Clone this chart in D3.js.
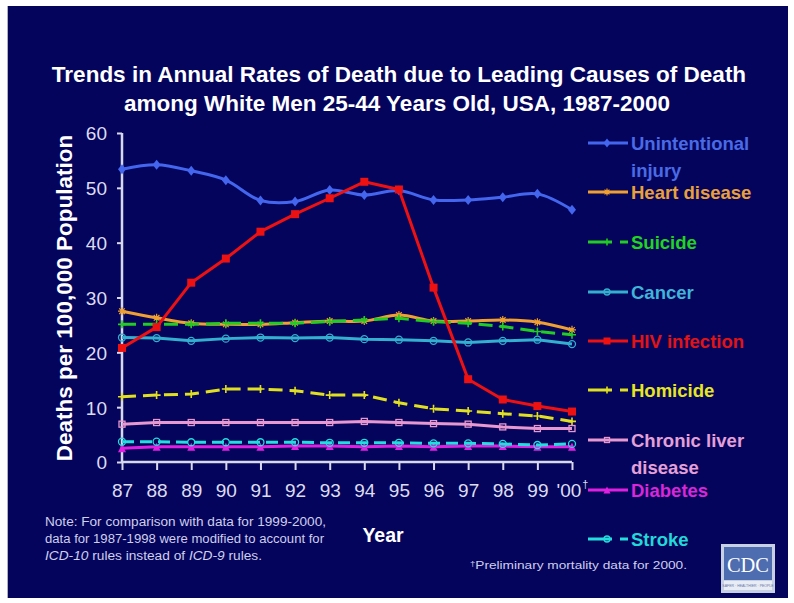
<!DOCTYPE html>
<html>
<head>
<meta charset="utf-8">
<script src="https://cdn.jsdelivr.net/npm/d3@7"></script>
<style>
  html, body { margin: 0; padding: 0; background: #ffffff; }
  svg { display: block; }
  svg { font-family: Arial, "Liberation Sans", sans-serif; }
</style>
</head>
<body>
<svg id="chart" width="794" height="603"></svg>
<script>
// ---- data ----
const years = [1987, 1988, 1989, 1990, 1991, 1992, 1993, 1994, 1995, 1996, 1997, 1998, 1999, 2000];
const yearLabels = ["87", "88", "89", "90", "91", "92", "93", "94", "95", "96", "97", "98", "99", "'00"];
const yTicks = [0, 10, 20, 30, 40, 50, 60];

const unintentionalInjury = [53.4, 54.2, 53.1, 51.4, 47.7, 47.5, 49.6, 48.7, 49.5, 47.8, 47.8, 48.3, 48.9, 46.0];
const heartDisease        = [27.5, 26.3, 25.3, 25.1, 25.1, 25.4, 25.7, 25.7, 26.8, 25.7, 25.7, 25.9, 25.5, 24.1];
const suicide             = [25.1, 25.1, 25.1, 25.3, 25.3, 25.3, 25.6, 25.9, 26.2, 25.6, 25.3, 24.7, 23.8, 23.2];
const cancer              = [22.7, 22.6, 22.1, 22.5, 22.7, 22.6, 22.7, 22.4, 22.3, 22.1, 21.8, 22.1, 22.3, 21.5];
const hivInfection        = [20.8, 24.6, 32.7, 37.1, 42.0, 45.2, 48.1, 51.1, 49.7, 31.8, 15.1, 11.4, 10.2, 9.2];
const homicide            = [11.9, 12.2, 12.4, 13.3, 13.3, 13.0, 12.2, 12.2, 10.8, 9.7, 9.3, 8.8, 8.4, 7.4];
const chronicLiver        = [6.9, 7.2, 7.2, 7.2, 7.2, 7.2, 7.2, 7.4, 7.2, 7.0, 6.9, 6.4, 6.1, 6.1];
const diabetes            = [2.5, 2.8, 2.8, 2.8, 2.8, 2.9, 2.9, 2.8, 2.9, 2.8, 2.9, 2.9, 2.8, 2.8];
const stroke              = [3.7, 3.7, 3.6, 3.6, 3.6, 3.6, 3.5, 3.5, 3.5, 3.4, 3.4, 3.3, 3.1, 3.3];

// series definitions (draw order: back to front)
const series = [
  { name: ["Unintentional", "injury"], values: unintentionalInjury, color: "#4466ee", text: "#4a6ae6", marker: "diamond", dash: null, curve: "smooth" },
  { name: ["Heart disease"], values: heartDisease, color: "#f0a030", text: "#e8a03c", marker: "asterisk", dash: null, curve: "smooth" },
  { name: ["Suicide"], values: suicide, color: "#22cc22", text: "#22d422", marker: "plus", dash: "14,7", curve: "linear" },
  { name: ["Cancer"], values: cancer, color: "#33b0d0", text: "#40b4d8", marker: "circleOpen", dash: null, curve: "linear" },
  { name: ["HIV infection"], values: hivInfection, color: "#ee1111", text: "#e01414", marker: "square", dash: null, curve: "linear" },
  { name: ["Homicide"], values: homicide, color: "#e0e020", text: "#e6e622", marker: "plus", dash: "14,7", curve: "linear" },
  { name: ["Chronic liver", "disease"], values: chronicLiver, color: "#e898d0", text: "#e4a0d8", marker: "squareOpen", dash: null, curve: "linear" },
  { name: ["Diabetes"], values: diabetes, color: "#e020e0", text: "#d826d8", marker: "triangle", dash: null, curve: "linear" },
  { name: ["Stroke"], values: stroke, color: "#22dede", text: "#22d8d8", marker: "circleOpen", dash: "12,6", curve: "linear" }
];

// ---- layout ----
const svg = d3.select("#chart");
const bg = "#04045c";
const axisColor = "#d8d8ec";
const plot = { left: 122, right: 572, top: 133, bottom: 462 };

svg.append("rect").attr("x", 8).attr("y", 6).attr("width", 780).attr("height", 592).attr("fill", bg);
svg.append("line").attr("x1", 7.5).attr("x2", 7.5).attr("y1", 6).attr("y2", 598)
  .attr("stroke", "#b0b0c0").attr("stroke-width", 1);

const x = d3.scaleLinear().domain([d3.min(years), d3.max(years)]).range([plot.left, plot.right]);
const y = d3.scaleLinear().domain([0, 60]).range([plot.bottom, plot.top]);

// ---- title ----
const title = svg.append("g").attr("fill", "#ffffff").attr("font-weight", "bold")
  .attr("font-size", "22.5px").attr("text-anchor", "middle");
title.append("text").attr("x", 399).attr("y", 82)
  .text("Trends in Annual Rates of Death due to Leading Causes of Death");
title.append("text").attr("x", 397).attr("y", 111)
  .text("among White Men 25-44 Years Old, USA, 1987-2000");

// ---- axes ----
const yAxis = d3.axisLeft(y).tickValues(yTicks).tickSize(5).tickPadding(10).tickFormat(d3.format("d"));
const yG = svg.append("g").attr("transform", `translate(${plot.left},0)`).call(yAxis);

const xAxis = d3.axisBottom(x).tickValues(years).tickSize(8).tickPadding(14)
  .tickFormat((d, i) => yearLabels[i]);
const xG = svg.append("g").attr("transform", `translate(0,${plot.bottom})`).call(xAxis);

[yG, xG].forEach(g => {
  g.attr("font-family", null);
  g.select(".domain").attr("stroke", axisColor).attr("stroke-width", 2.5);
  g.selectAll(".tick line").attr("stroke", axisColor).attr("stroke-width", 2);
  g.selectAll(".tick text").attr("fill", "#dcdcf0").attr("font-size", "19px");
});
// the x axis line stops at the last category, the y axis line at the top tick
yG.select(".domain").attr("d", `M0,${plot.top}V${plot.bottom}`);
xG.select(".domain").attr("d", `M${plot.left},0H${plot.right}`);
yG.selectAll(".tick text").attr("dy", "0.36em");

// dagger on the preliminary year
xG.selectAll(".tick text").filter((d, i) => i === years.length - 1)
  .append("tspan").attr("font-size", "11px").attr("dy", "-0.9em").attr("dx", "1").text("†");

// axis titles
svg.append("text").attr("transform", "translate(72,298) rotate(-90)")
  .attr("text-anchor", "middle").attr("fill", "#ffffff").attr("font-weight", "bold")
  .attr("font-size", "22.5px").text("Deaths per 100,000 Population");
svg.append("text").attr("x", 383).attr("y", 542).attr("text-anchor", "middle")
  .attr("fill", "#ffffff").attr("font-weight", "bold").attr("font-size", "19.5px").text("Year");

// ---- markers ----
function drawMarker(g, type, color, cx, cy, s) {
  const r = s / 2;
  switch (type) {
    case "diamond":
      g.append("path").attr("d", `M${cx},${cy - r - 1}L${cx + r},${cy}L${cx},${cy + r + 1}L${cx - r},${cy}Z`).attr("fill", color);
      break;
    case "square":
      g.append("rect").attr("x", cx - r).attr("y", cy - r).attr("width", s).attr("height", s).attr("fill", color);
      break;
    case "squareOpen":
      g.append("rect").attr("x", cx - r + 1).attr("y", cy - r + 1).attr("width", s - 2).attr("height", s - 2)
        .attr("fill", "none").attr("stroke", color).attr("stroke-width", 1.3);
      break;
    case "circleOpen":
      g.append("circle").attr("cx", cx).attr("cy", cy).attr("r", r - 0.5)
        .attr("fill", "none").attr("stroke", color).attr("stroke-width", 1.3);
      break;
    case "triangle":
      g.append("path").attr("d", `M${cx},${cy - r}L${cx + r},${cy + r}L${cx - r},${cy + r}Z`).attr("fill", color);
      break;
    case "plus":
      g.append("path").attr("d", `M${cx - r},${cy}H${cx + r}M${cx},${cy - r}V${cy + r}`)
        .attr("stroke", color).attr("stroke-width", 1.6);
      break;
    case "asterisk":
      g.append("path").attr("d", `M${cx - r},${cy}H${cx + r}M${cx},${cy - r}V${cy + r}M${cx - r * 0.7},${cy - r * 0.7}L${cx + r * 0.7},${cy + r * 0.7}M${cx + r * 0.7},${cy - r * 0.7}L${cx - r * 0.7},${cy + r * 0.7}`)
        .attr("stroke", color).attr("stroke-width", 1.2);
      break;
  }
}

// ---- series lines ----
const linesG = svg.append("g");
series.forEach(s => {
  const line = d3.line()
    .x((d, i) => x(years[i]))
    .y(d => y(d))
    .curve(s.curve === "smooth" ? d3.curveCatmullRom.alpha(0.5) : d3.curveLinear);
  const g = linesG.append("g");
  g.append("path").datum(s.values).attr("d", line)
    .attr("fill", "none").attr("stroke", s.color).attr("stroke-width", 3)
    .attr("stroke-dasharray", s.dash).attr("stroke-linejoin", "round");
  s.values.forEach((v, i) => drawMarker(g, s.marker, s.color, x(years[i]), y(v), 8));
});

// ---- legend ----
const legendY = [143, 192, 242, 292, 341, 390, 440, 490, 539];
const legend = svg.append("g");
series.forEach((s, i) => {
  const ly = legendY[i];
  const g = legend.append("g");
  if (s.dash) {
    g.append("line").attr("x1", 588).attr("x2", 612).attr("y1", ly).attr("y2", ly)
      .attr("stroke", s.color).attr("stroke-width", 3);
    g.append("line").attr("x1", 620).attr("x2", 628).attr("y1", ly).attr("y2", ly)
      .attr("stroke", s.color).attr("stroke-width", 3);
  } else {
    g.append("line").attr("x1", 588).attr("x2", 628).attr("y1", ly).attr("y2", ly)
      .attr("stroke", s.color).attr("stroke-width", 3);
  }
  drawMarker(g, s.marker, s.color, 607, ly, 7);
  s.name.forEach((t, j) => {
    g.append("text").attr("x", 631).attr("y", ly + 6.5 + j * 27)
      .attr("fill", s.text).attr("font-weight", "bold").attr("font-size", "18.5px").text(t);
  });
});

// ---- notes ----
const note = svg.append("g").attr("fill", "#cfcfec").attr("font-size", "12px");
note.append("text").attr("x", 45).attr("y", 526).attr("textLength", 281).attr("lengthAdjust", "spacingAndGlyphs")
  .text("Note:  For comparison with data for 1999-2000,");
note.append("text").attr("x", 45).attr("y", 543).attr("textLength", 279).attr("lengthAdjust", "spacingAndGlyphs")
  .text("data for 1987-1998 were modified to account for");
const n3 = note.append("text").attr("x", 45).attr("y", 560).attr("textLength", 217).attr("lengthAdjust", "spacingAndGlyphs");
n3.append("tspan").attr("font-style", "italic").text("ICD-10");
n3.append("tspan").text(" rules instead of ");
n3.append("tspan").attr("font-style", "italic").text("ICD-9");
n3.append("tspan").text(" rules.");

const foot = svg.append("text").attr("x", 470).attr("y", 569).attr("fill", "#cfcfec").attr("font-size", "11.5px")
  .attr("textLength", 217).attr("lengthAdjust", "spacingAndGlyphs");
foot.append("tspan").attr("font-size", "8px").attr("dy", "-3").text("†");
foot.append("tspan").attr("dy", "3").text("Preliminary mortality data for 2000.");

// ---- agency logo ----
const logo = svg.append("g");
logo.append("rect").attr("x", 721).attr("y", 544).attr("width", 54).attr("height", 49).attr("fill", "#c8d0e4");
logo.append("rect").attr("x", 724).attr("y", 547).attr("width", 48).attr("height", 33).attr("fill", "#4d6db0");
logo.append("rect").attr("x", 724).attr("y", 581).attr("width", 48).attr("height", 9).attr("fill", "#e8ecf4");
logo.append("text").attr("x", 748).attr("y", 572).attr("text-anchor", "middle")
  .style("font-family", "'Liberation Serif', 'Times New Roman', serif").attr("font-size", "22px")
  .attr("fill", "#ffffff").attr("textLength", 42).attr("lengthAdjust", "spacingAndGlyphs").text("CDC");
logo.append("text").attr("x", 748).attr("y", 587).attr("text-anchor", "middle").attr("font-size", "3.5px")
  .attr("fill", "#6677aa").text("SAFER · HEALTHIER · PEOPLE");
</script>
</body>
</html>
